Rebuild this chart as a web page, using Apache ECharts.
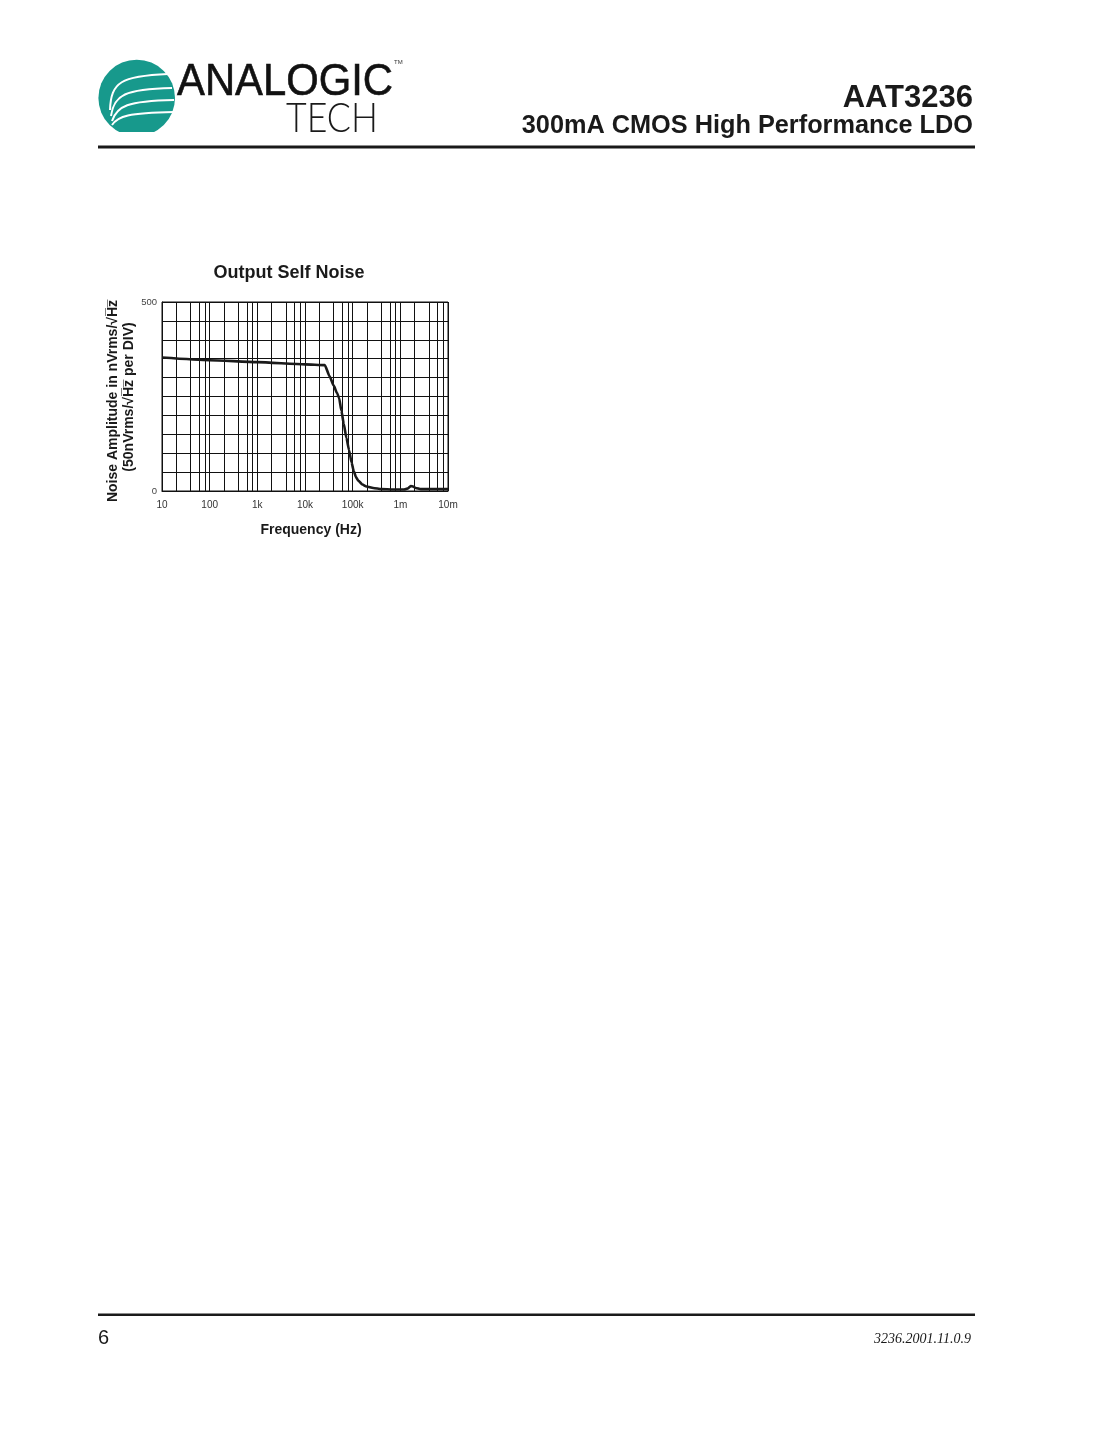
<!DOCTYPE html>
<html><head><meta charset="utf-8">
<script src="https://cdn.jsdelivr.net/npm/echarts@6/dist/echarts.min.js"></script>
<style>html,body{margin:0;padding:0;background:#fff}#c{width:1105px;height:1430px}</style>
</head><body><div id="c"></div>
<script>
// ---- data ----
const freqHz = [10, 100, 1000, 10000, 26000, 33000, 40000, 47000, 52000, 58000, 65000, 74000, 84000, 95000, 105000, 118000, 132000, 160000, 195000, 270000, 400000, 700000, 1200000, 1450000, 1650000, 1850000, 2100000, 2700000, 5000000, 10000000];
const noiseNv = [353, 346, 341, 335, 333, 303, 279, 259, 246, 212, 178, 140, 108, 75, 53, 36, 27, 17, 12, 8, 5, 4, 4, 7, 13, 12, 8, 5, 5, 5];
const xTickLabels = ['10', '100', '1k', '10k', '100k', '1m', '10m'];
const yTickLabels = ['0', '500'];
const minorGridHz = [20, 40, 60, 80, 200, 400, 600, 800, 2000, 4000, 6000, 8000,
  20000, 40000, 60000, 80000, 200000, 400000, 600000, 800000,
  2000000, 4000000, 6000000, 8000000];

const chartTitle = 'Output Self Noise';
const xName = 'Frequency (Hz)';
const yName1 = 'Noise Amplitude in nVrms/\u221AH\u0305z\u0305';
const yName2 = '(50nVrms/\u221AH\u0305z\u0305 per DIV)';

const chart = echarts.init(document.getElementById('c'), null, {renderer: 'canvas'});
const AR = 'Arial, "Liberation Sans", Helvetica, sans-serif';
const teal = '#17998c';

chart.setOption({
  animation: false,
  backgroundColor: '#fff',
  grid: {left: 162, top: 302, width: 286, height: 189, show: true, borderColor: '#111', borderWidth: 1, containLabel: false},
  xAxis: {
    type: 'log', logBase: 10, min: 10, max: 10000000,
    axisLine: {show: true, lineStyle: {color: '#111', width: 1}},
    axisTick: {show: false},
    splitLine: {show: true, lineStyle: {color: '#111', width: 1}},
    axisLabel: {
      color: '#333', fontFamily: AR, fontSize: 10, margin: 9,
      formatter: v => xTickLabels[Math.round(Math.log10(v)) - 1] || ''
    }
  },
  yAxis: {
    type: 'value', min: 0, max: 500, interval: 50,
    axisLine: {show: true, lineStyle: {color: '#111', width: 1}},
    axisTick: {show: false},
    splitLine: {show: true, lineStyle: {color: '#111', width: 1}},
    axisLabel: {
      color: '#444', fontFamily: AR, fontSize: 9.5, margin: 5,
      formatter: v => (v === 0 ? yTickLabels[0] : (v === 500 ? yTickLabels[1] : ''))
    }
  },
  series: [{
    type: 'line',
    data: freqHz.map((f, i) => [f, noiseNv[i]]),
    showSymbol: false,
    smooth: 0.2,
    smoothMonotone: 'x',
    lineStyle: {color: '#1a1a1a', width: 2.6},
    z: 5,
    markLine: {
      silent: true, symbol: ['none', 'none'], label: {show: false},
      lineStyle: {color: '#111', width: 1, type: 'solid'},
      emphasis: {disabled: true},
      data: minorGridHz.map(v => ({xAxis: v}))
    }
  }],
  graphic: [
    // logo
    {type: 'circle', shape: {cx: 136.7, cy: 98, r: 38.3}, style: {fill: teal}, z: 1},
    {type: 'rect', shape: {x: 94, y: 132, width: 86, height: 10}, style: {fill: '#fff'}, z: 2},
    {type: 'bezierCurve', shape: {x1: 110, y1: 110, cpx1: 111, cpy1: 82, cpx2: 121, cpy2: 76, x2: 168, y2: 74}, style: {stroke: '#fff', lineWidth: 2, fill: null}, z: 3},
    {type: 'bezierCurve', shape: {x1: 111, y1: 116, cpx1: 114, cpy1: 95, cpx2: 125, cpy2: 89, x2: 172, y2: 88}, style: {stroke: '#fff', lineWidth: 2, fill: null}, z: 3},
    {type: 'bezierCurve', shape: {x1: 112, y1: 121, cpx1: 117, cpy1: 106, cpx2: 127, cpy2: 101, x2: 174, y2: 100}, style: {stroke: '#fff', lineWidth: 2, fill: null}, z: 3},
    {type: 'bezierCurve', shape: {x1: 112, y1: 125, cpx1: 118, cpy1: 116, cpx2: 128, cpy2: 113, x2: 174, y2: 112}, style: {stroke: '#fff', lineWidth: 2, fill: null}, z: 3},
    {type: 'text', x: 177, y: 83, scaleX: 0.95, style: {text: 'ANALOGIC', font: 'normal 44px ' + AR, fill: '#111', stroke: '#111', lineWidth: 0.6, textAlign: 'left', textVerticalAlign: 'middle'}},
    {type: 'text', x: 286, y: 118, scaleX: 0.85, style: {text: 'TECH', font: '300 42px Lato, ' + AR, fill: '#1a1a1a', textAlign: 'left', textVerticalAlign: 'middle'}},
    {type: 'text', x: 394, y: 62, style: {text: 'TM', font: 'normal 6px ' + AR, fill: '#333', textAlign: 'left', textVerticalAlign: 'middle'}},
    // header
    {type: 'text', x: 973, y: 98, style: {text: 'AAT3236', font: 'bold 31px ' + AR, fill: '#1a1a1a', textAlign: 'right', textVerticalAlign: 'middle'}},
    {type: 'text', x: 973, y: 126, style: {text: '300mA CMOS High Performance LDO', font: 'bold 25.3px ' + AR, fill: '#1a1a1a', textAlign: 'right', textVerticalAlign: 'middle'}},
    {type: 'rect', shape: {x: 98, y: 145.5, width: 877, height: 3}, style: {fill: '#1a1a1a'}},
    // chart texts
    {type: 'text', x: 289, y: 273, style: {text: chartTitle, font: 'bold 18px ' + AR, fill: '#1a1a1a', textAlign: 'center', textVerticalAlign: 'middle'}},
    {type: 'text', x: 311, y: 530, style: {text: xName, font: 'bold 14px ' + AR, fill: '#1a1a1a', textAlign: 'center', textVerticalAlign: 'middle'}},
    {type: 'text', x: 113, y: 401, rotation: Math.PI / 2, style: {text: yName1, font: 'bold 14px ' + AR, fill: '#1a1a1a', textAlign: 'center', textVerticalAlign: 'middle'}},
    {type: 'text', x: 129, y: 397, rotation: Math.PI / 2, style: {text: yName2, font: 'bold 14px ' + AR, fill: '#1a1a1a', textAlign: 'center', textVerticalAlign: 'middle'}},
    // footer
    {type: 'rect', shape: {x: 98, y: 1313.5, width: 877, height: 2.5}, style: {fill: '#1a1a1a'}},
    {type: 'text', x: 98, y: 1338, style: {text: '6', font: 'normal 20px ' + AR, fill: '#1a1a1a', textAlign: 'left', textVerticalAlign: 'middle'}},
    {type: 'text', x: 971, y: 1339, style: {text: '3236.2001.11.0.9', font: 'italic 14px "Liberation Serif", "Times New Roman", serif', fill: '#1a1a1a', textAlign: 'right', textVerticalAlign: 'middle'}}
  ]
});
</script>
</body></html>
